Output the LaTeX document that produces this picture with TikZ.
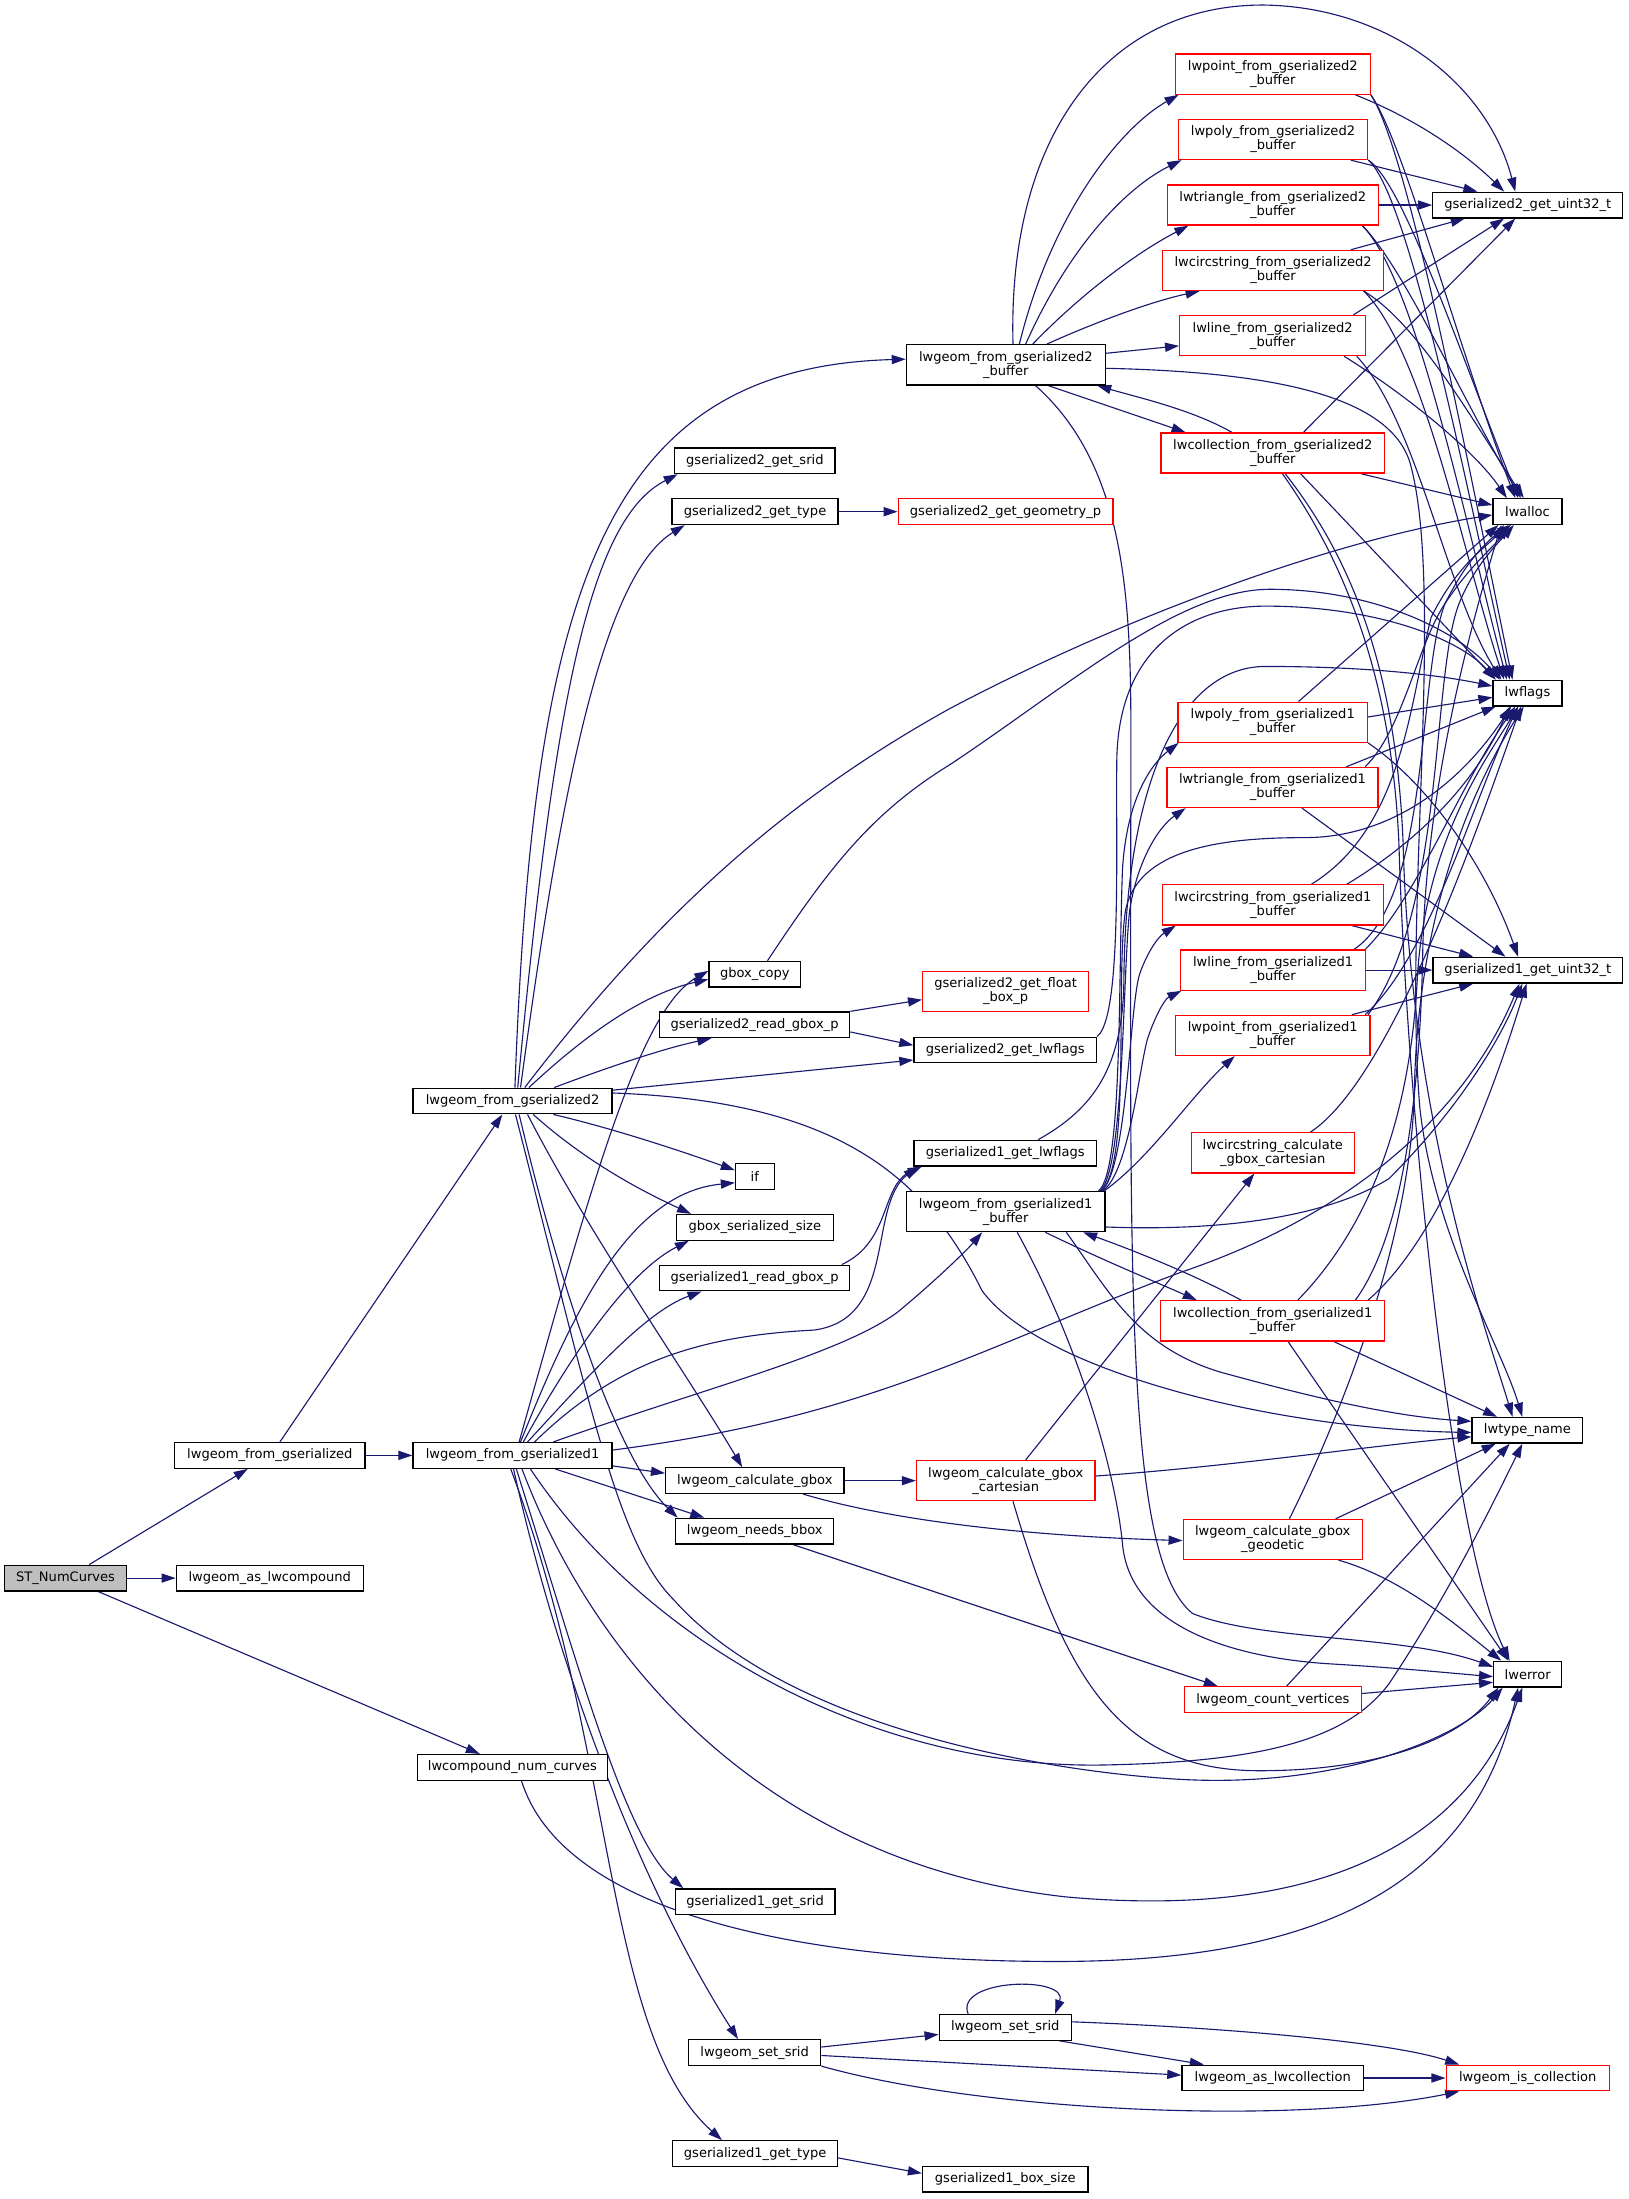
\documentclass[tikz,border=0pt]{standalone}
\usepackage{fontspec}
\setmainfont{DejaVu Sans}
\usetikzlibrary{arrows.meta}
\pgfdeclarelayer{bg}
\pgfsetlayers{bg,main}
\definecolor{edgec}{HTML}{191970}
\definecolor{redb}{HTML}{FF0000}
\definecolor{grayf}{HTML}{BFBFBF}
\begin{document}
\begin{tikzpicture}[x=1pt,y=-1pt,
  box/.style={draw=black, line width=0.9pt, rectangle, inner sep=0pt, minimum height=18.3pt, align=center, font=\fontsize{9.3}{10}\selectfont, fill=white},
  rbox/.style={box, draw=redb},
  two/.style={minimum height=28.6pt},
  e/.style={draw=edgec, line width=0.8pt, -{Triangle[length=10pt,width=6.5pt]}}]
\useasboundingbox (0,0) rectangle (1160.4,1567.3);
% ---------- nodes ----------
\node[box,fill=grayf,minimum width=87.1pt] (ST) at (46.75,1124.75) {ST\_NumCurves};
\node[box,minimum width=133.3pt] (asComp) at (192.25,1124.75) {lwgeom\_as\_lwcompound};
\node[box,minimum width=135.8pt] (fromG) at (192.3,1037.3) {lwgeom\_from\_gserialized};
\node[box,minimum width=135.6pt] (numCurves) at (365.2,1259.65) {lwcompound\_num\_curves};
\node[box,minimum width=141.8pt] (fromG1) at (365.3,1037.3) {lwgeom\_from\_gserialized1};
\node[box,minimum width=141.8pt] (fromG2) at (365.3,784.7) {lwgeom\_from\_gserialized2};
\node[box,two,minimum width=141.8pt] (g2buf) at (716.9,260.05) {lwgeom\_from\_gserialized2\\\_buffer};
\node[box,minimum width=114.1pt] (g2srid) at (538,328.45) {gserialized2\_get\_srid};
\node[box,minimum width=118.3pt] (g2type) at (538.15,364.7) {gserialized2\_get\_type};
\node[rbox,minimum width=153pt] (g2geom) at (716.7,364.7) {gserialized2\_get\_geometry\_p};
\node[box,minimum width=65.4pt] (gboxcopy) at (538,694.3) {gbox\_copy};
\node[rbox,two,minimum width=118.2pt] (g2float) at (716.7,706.5) {gserialized2\_get\_float\\\_box\_p};
\node[box,minimum width=135.6pt] (g2read) at (537.8,730.4) {gserialized2\_read\_gbox\_p};
\node[box,minimum width=130.1pt] (g2flags) at (716.45,748.35) {gserialized2\_get\_lwflags};
\node[box,minimum width=27.6pt] (if) at (538,838.65) {if};
\node[box,minimum width=112pt] (gboxsize) at (538,874.75) {gbox\_serialized\_size};
\node[box,minimum width=135.6pt] (g1read) at (537.8,910.85) {gserialized1\_read\_gbox\_p};
\node[box,minimum width=130.1pt] (g1flags) at (716.45,821.8) {gserialized1\_get\_lwflags};
\node[box,two,minimum width=141.5pt] (g1buf) at (716.75,863.55) {lwgeom\_from\_gserialized1\\\_buffer};
\node[box,minimum width=127.2pt] (calcgbox) at (538,1055.3) {lwgeom\_calculate\_gbox};
\node[rbox,two,minimum width=127.3pt] (cart) at (716.85,1055.3) {lwgeom\_calculate\_gbox\\\_cartesian};
\node[box,minimum width=112.7pt] (needsbbox) at (537.95,1091.3) {lwgeom\_needs\_bbox};
\node[box,minimum width=114pt] (g1srid) at (538.2,1355.4) {gserialized1\_get\_srid};
\node[box,minimum width=94.2pt] (setsridB) at (716.5,1444.95) {lwgeom\_set\_srid};
\node[box,minimum width=94.1pt] (setsridA) at (537.85,1462.95) {lwgeom\_set\_srid};
\node[box,minimum width=129.4pt] (ascoll) at (907.1,1481.05) {lwgeom\_as\_lwcollection};
\node[rbox,minimum width=116.3pt] (iscoll) at (1088.85,1481.05) {lwgeom\_is\_collection};
\node[box,minimum width=117.4pt] (g1type) at (538.2,1534.95) {gserialized1\_get\_type};
\node[box,minimum width=118pt] (g1box) at (716.5,1553.15) {gserialized1\_box\_size};
\node[rbox,two,minimum width=138.9pt] (pt2) at (907.15,52.85) {lwpoint\_from\_gserialized2\\\_buffer};
\node[rbox,two,minimum width=135pt] (poly2) at (907.3,99.4) {lwpoly\_from\_gserialized2\\\_buffer};
\node[rbox,two,minimum width=150.3pt] (tri2) at (907.15,146.15) {lwtriangle\_from\_gserialized2\\\_buffer};
\node[rbox,two,minimum width=157.7pt] (circ2) at (907.35,192.75) {lwcircstring\_from\_gserialized2\\\_buffer};
\node[rbox,two,minimum width=132.6pt] (line2) at (907.1,239.2) {lwline\_from\_gserialized2\\\_buffer};
\node[rbox,two,minimum width=159.5pt] (coll2) at (907.15,322.9) {lwcollection\_from\_gserialized2\\\_buffer};
\node[box,minimum width=135.4pt] (u32b) at (1088.9,146.15) {gserialized2\_get\_uint32\_t};
\node[box,minimum width=49.2pt] (lwalloc) at (1088.7,364.6) {lwalloc};
\node[box,minimum width=49.2pt] (lwflags) at (1088.7,494) {lwflags};
\node[rbox,two,minimum width=135pt] (poly1) at (907.1,514.75) {lwpoly\_from\_gserialized1\\\_buffer};
\node[rbox,two,minimum width=150.5pt] (tri1) at (906.95,561.25) {lwtriangle\_from\_gserialized1\\\_buffer};
\node[rbox,two,minimum width=157.9pt] (circ1) at (907.25,644.95) {lwcircstring\_from\_gserialized1\\\_buffer};
\node[rbox,two,minimum width=131.9pt] (line1) at (907.35,691.45) {lwline\_from\_gserialized1\\\_buffer};
\node[rbox,two,minimum width=138.6pt] (pt1) at (907.1,737.95) {lwpoint\_from\_gserialized1\\\_buffer};
\node[box,minimum width=135.3pt] (u32a) at (1088.95,691.45) {gserialized1\_get\_uint32\_t};
\node[rbox,two,minimum width=116.2pt] (circcart) at (907.1,821.65) {lwcircstring\_calculate\\\_gbox\_cartesian};
\node[rbox,two,minimum width=159.8pt] (coll1) at (907.1,941.4) {lwcollection\_from\_gserialized1\\\_buffer};
\node[box,minimum width=78.9pt] (lwtype) at (1088.65,1019.4) {lwtype\_name};
\node[rbox,two,minimum width=127.6pt] (geod) at (907.1,1097.2) {lwgeom\_calculate\_gbox\\\_geodetic};
\node[box,minimum width=48.4pt] (lwerror) at (1088.8,1193.2) {lwerror};
\node[rbox,minimum width=126pt] (countv) at (907.2,1211.4) {lwgeom\_count\_vertices};
% ---------- edges ----------
\begin{pgfonlayer}{bg}
\fill[white] (0,0) rectangle (1160.4,1567.3);
% left part
\draw[e] (63.5,0 |- ST.north) -- (176.6,0 |- fromG.south);
\draw[e] (ST.east) -- (asComp.west);
\draw[e] (70,0 |- ST.south) -- (342,0 |- numCurves.north);
\draw[e] (fromG.east) -- (fromG1.west);
\draw[e] (199.5,0 |- fromG.north) -- (358,0 |- fromG2.south);
\draw[e] (371.7,0 |- numCurves.south) .. controls (400,1360) and (560,1398) .. (753,1398) .. controls (930,1398) and (1050,1350) .. (1082,0 |- lwerror.south);
% fromG2
\draw[e] (367,0 |- fromG2.north) .. controls (380,420) and (430,262) .. (g2buf.west |- 0,256);
\draw[e] (369,0 |- fromG2.north) .. controls (395,500) and (420,370) .. (483,0 |- g2srid.south);
\draw[e] (371,0 |- fromG2.north) .. controls (400,560) and (430,410) .. (488,0 |- g2type.south);
\draw[e] (377,0 |- fromG2.north) .. controls (420,735) and (460,708) .. (gboxcopy.west |- 0,698);
\draw[e] (395,0 |- fromG2.north) .. controls (430,762) and (470,748) .. (507,0 |- g2read.south);
\draw[e] (fromG2.east |- 0,777) -- (g2flags.west |- 0,755.5);
\draw[e] (374,0 |- fromG2.north) .. controls (470,650) and (560,570) .. (677,505) .. controls (800,440) and (950,385) .. (lwalloc.west |- 0,367);
\draw[e] (394.4,0 |- fromG2.south) .. controls (440,805) and (490,822) .. (if.west |- 0,834);
\draw[e] (380,0 |- fromG2.south) .. controls (420,830) and (460,850) .. (492.5,0 |- gboxsize.north);
\draw[e] (376,0 |- fromG2.south) .. controls (420,880) and (490,980) .. (529,0 |- calcgbox.north);
\draw[e] (370,0 |- fromG2.south) .. controls (400,920) and (440,1040) .. (483,0 |- needsbbox.north);
\draw[e] (fromG2.east |- 0,779) .. controls (600,785) and (660,840) .. (700,920) .. controls (740,975) and (900,1018) .. (lwtype.west |- 0,1021);
\draw[e] (367.4,0 |- fromG2.south) .. controls (420,1000) and (440,1100) .. (480,1140) .. controls (560,1230) and (740,1262) .. (838,1268) .. controls (950,1275) and (1040,1240) .. (1071,0 |- lwerror.south);
% gbox_copy
\draw[e] (547,0 |- gboxcopy.north) .. controls (590,620) and (620,580) .. (677,545) .. controls (760,490) and (840,420) .. (905,420) .. controls (980,420) and (1040,450) .. (1069,0 |- lwflags.north);
% fromG1
\draw[e] (370,0 |- fromG1.north) .. controls (420,850) and (455,720) .. (gboxcopy.west |- 0,692);
\draw[e] (371,0 |- fromG1.north) .. controls (410,930) and (450,850) .. (if.west |- 0,843);
\draw[e] (373,0 |- fromG1.north) .. controls (410,960) and (450,905) .. (491,0 |- gboxsize.south);
\draw[e] (376,0 |- fromG1.north) .. controls (420,980) and (460,935) .. (500,0 |- g1read.south);
\draw[e] (381,0 |- fromG1.north) .. controls (440,970) and (500,952) .. (580,948) .. controls (640,940) and (618,860) .. (654,0 |- g1flags.south);
\draw[e] (600,0 |- g1read.north) .. controls (635,885) and (628,845) .. (657,0 |- g1flags.south);
\draw[e] (394.4,0 |- fromG1.north) .. controls (500,990) and (600,965) .. (640,935) .. controls (670,910) and (690,890) .. (700,0 |- g1buf.south);
\draw[e] (fromG1.east |- 0,1033.5) .. controls (620,1010) and (700,960) .. (841,907) .. controls (980,860) and (1050,780) .. (1083,0 |- u32a.south);
\draw[e] (fromG1.east |- 0,1044.8) -- (calcgbox.west |- 0,1050);
\draw[e] (395.5,0 |- fromG1.south) -- (502,0 |- needsbbox.north);
\draw[e] (378,0 |- fromG1.south) .. controls (460,1170) and (620,1260) .. (784,1258) .. controls (900,1256) and (960,1240) .. (990,1200) .. controls (1030,1140) and (1060,1080) .. (1085,0 |- lwtype.south);
\draw[e] (372,0 |- fromG1.south) .. controls (430,1200) and (560,1330) .. (760,1352) .. controls (960,1370) and (1050,1300) .. (1085,0 |- lwerror.south);
\draw[e] (368,0 |- fromG1.south) .. controls (410,1180) and (445,1310) .. (487,0 |- g1srid.north);
\draw[e] (366,0 |- fromG1.south) .. controls (400,1200) and (460,1350) .. (526,0 |- setsridA.north);
\draw[e] (364,0 |- fromG1.south) .. controls (440,1250) and (430,1450) .. (514.6,0 |- g1type.north);
% gserialized2 helpers
\draw[e] (g2type.east) -- (g2geom.west);
\draw[e] (g2read.north east) -- (g2float.west |- 0,712.5);
\draw[e] (g2read.east |- 0,735.5) -- (g2flags.west |- 0,745);
\draw[e] (g2flags.north east) .. controls (800,725) and (795,600) .. (796,540) .. controls (798,460) and (850,432) .. (902,432) .. controls (980,432) and (1040,455) .. (1066,0 |- lwflags.north);
\draw[e] (740,0 |- g1flags.north) .. controls (780,790) and (800,760) .. (801,700) .. controls (802,560) and (840,475) .. (902,475) .. controls (980,475) and (1030,482) .. (lwflags.west |- 0,489);
% g2buf
\draw[e] (726.5,0 |- g2buf.north) .. controls (750,150) and (800,90) .. (840,0 |- pt2.south);
\draw[e] (731,0 |- g2buf.north) .. controls (760,180) and (800,135) .. (842,0 |- poly2.south);
\draw[e] (736,0 |- g2buf.north) .. controls (770,210) and (810,180) .. (847,0 |- tri2.south);
\draw[e] (746,0 |- g2buf.north) .. controls (780,230) and (820,215) .. (855,0 |- circ2.south);
\draw[e] (g2buf.east |- 0,251.8) -- (line2.west |- 0,246.5);
\draw[e] (747,0 |- g2buf.south) -- (845,0 |- coll2.north);
\draw[e] (878,0 |- coll2.north) .. controls (850,292) and (810,283) .. (782,0 |- g2buf.south);
\draw[e] (722,0 |- g2buf.north) .. controls (718,95) and (790,3) .. (901,3.6) .. controls (990,5) and (1060,60) .. (1080,0 |- u32b.north);
\draw[e] (g2buf.east |- 0,262.5) .. controls (900,265) and (990,280) .. (1005,330) .. controls (1030,420) and (1000,650) .. (1012,790) .. controls (1022,880) and (1070,960) .. (1085,0 |- lwtype.north);
\draw[e] (738,0 |- g2buf.south) .. controls (800,330) and (806,420) .. (806,520) .. controls (806,900) and (800,1110) .. (850,1150) .. controls (900,1170) and (1000,1165) .. (lwerror.west |- 0,1188);
% coll2
\draw[e] (929,0 |- coll2.north) -- (1080,0 |- u32b.south);
\draw[e] (970,0 |- coll2.south) -- (lwalloc.west |- 0,360);
\draw[e] (927,0 |- coll2.south) -- (1066,0 |- lwflags.north);
\draw[e] (916,0 |- coll2.south) .. controls (965,400) and (995,480) .. (1000,600) .. controls (1005,800) and (1060,950) .. (1078,0 |- lwtype.north);
\draw[e] (914,0 |- coll2.south) .. controls (962,405) and (992,490) .. (997,600) .. controls (1003,800) and (1035,1100) .. (1076,0 |- lwerror.north);
% readers of gserialized2
\draw[e] (966,0 |- pt2.south) .. controls (1010,85) and (1045,110) .. (1072,0 |- u32b.north);
\draw[e] (pt2.south east) .. controls (1000,100) and (1040,250) .. (1080,0 |- lwalloc.north);
\draw[e] (pt2.south east) .. controls (1005,110) and (1050,350) .. (1078,0 |- lwflags.north);
\draw[e] (962.8,0 |- poly2.south) -- (1053,0 |- u32b.north);
\draw[e] (poly2.south east) .. controls (1000,130) and (1040,250) .. (1082,0 |- lwalloc.north);
\draw[e] (poly2.south east) .. controls (1005,140) and (1048,360) .. (1076,0 |- lwflags.north);
\draw[e] (tri2.east) -- (u32b.west);
\draw[e] (971,0 |- tri2.south) .. controls (1000,190) and (1040,280) .. (1084,0 |- lwalloc.north);
\draw[e] (971,0 |- tri2.south) .. controls (1010,200) and (1046,380) .. (1074,0 |- lwflags.north);
\draw[e] (962.8,0 |- circ2.north) -- (1044,0 |- u32b.south);
\draw[e] (972,0 |- circ2.south) .. controls (1010,230) and (1050,300) .. (1086,0 |- lwalloc.north);
\draw[e] (972,0 |- circ2.south) .. controls (1015,250) and (1044,400) .. (1072,0 |- lwflags.north);
\draw[e] (964.6,0 |- line2.north) -- (1072,0 |- u32b.south);
\draw[e] (958,0 |- line2.south) .. controls (1000,280) and (1050,320) .. (1074,0 |- lwalloc.north);
\draw[e] (967,0 |- line2.south) .. controls (1010,300) and (1030,420) .. (1070,0 |- lwflags.north);
% readers of gserialized1
\draw[e] (poly1.east |- 0,511) -- (lwflags.west |- 0,497);
\draw[e] (925.5,0 |- poly1.north) -- (1068,0 |- lwalloc.south);
\draw[e] (poly1.south east) .. controls (1020,560) and (1060,620) .. (1082,0 |- u32a.north);
\draw[e] (959.6,0 |- tri1.north) -- (1066,0 |- lwflags.south);
\draw[e] (973,0 |- tri1.north) .. controls (1000,520) and (1010,460) .. (1030,430) .. controls (1050,400) and (1065,390) .. (1075,0 |- lwalloc.south);
\draw[e] (928,0 |- tri1.south) -- (1073,0 |- u32a.north);
\draw[e] (960,0 |- circ1.north) .. controls (1010,600) and (1050,560) .. (1076,0 |- lwflags.south);
\draw[e] (934.7,0 |- circ1.north) .. controls (1000,590) and (1005,500) .. (1020,440) .. controls (1040,400) and (1060,390) .. (1072,0 |- lwalloc.south);
\draw[e] (963.5,0 |- circ1.south) -- (1050,0 |- u32a.north);
\draw[e] (line1.east |- 0,691.4) -- (u32a.west |- 0,691.4);
\draw[e] (973,0 |- line1.north) .. controls (1010,640) and (1040,560) .. (1080,0 |- lwflags.south);
\draw[e] (965,0 |- line1.north) .. controls (1020,640) and (1010,480) .. (1030,430) .. controls (1045,400) and (1060,385) .. (1077,0 |- lwalloc.south);
\draw[e] (963.5,0 |- pt1.north) -- (1050,0 |- u32a.south);
\draw[e] (973,0 |- pt1.north) .. controls (1020,680) and (1050,570) .. (1082,0 |- lwflags.south);
\draw[e] (975,0 |- pt1.north) .. controls (1030,650) and (1020,480) .. (1040,430) .. controls (1050,405) and (1065,390) .. (1079,0 |- lwalloc.south);
% g1buf
\draw[e] (783,0 |- g1buf.north) .. controls (800,835) and (797,700) .. (800,620) .. controls (803,570) and (820,545) .. (840,0 |- poly1.south);
\draw[e] (784,0 |- g1buf.north) .. controls (801,835) and (800,700) .. (805,650) .. controls (810,615) and (825,590) .. (845,0 |- tri1.south);
\draw[e] (785,0 |- g1buf.north) .. controls (803,835) and (805,720) .. (812,695) .. controls (817,680) and (825,668) .. (838,0 |- circ1.south);
\draw[e] (786,0 |- g1buf.north) .. controls (805,835) and (812,760) .. (818,740) .. controls (823,725) and (830,712) .. (842,0 |- line1.south);
\draw[e] (787,0 |- g1buf.north) .. controls (820,825) and (850,780) .. (880,0 |- pt1.south);
\draw[e] (785,0 |- g1buf.north) .. controls (806,830) and (795,700) .. (802,650) .. controls (810,605) and (870,597) .. (930,597) .. controls (990,597) and (1040,560) .. (1077,0 |- lwflags.south);
\draw[e] (g1buf.east |- 0,874.5) .. controls (880,878) and (950,865) .. (990,840) .. controls (1040,790) and (1070,740) .. (1085,0 |- u32a.south);
\draw[e] (760,0 |- g1buf.south) .. controls (790,920) and (810,960) .. (870,978) .. controls (950,1000) and (1000,1010) .. (lwtype.west |- 0,1013);
\draw[e] (745,0 |- g1buf.south) .. controls (790,900) and (820,912) .. (853,0 |- coll1.north);
\draw[e] (884.6,0 |- coll1.north) .. controls (850,908) and (810,892) .. (772,0 |- g1buf.south);
\draw[e] (725,0 |- g1buf.south) .. controls (770,960) and (795,1050) .. (800,1100) .. controls (805,1160) and (880,1182) .. (950,1186) .. controls (1000,1189) and (1040,1193) .. (lwerror.west |- 0,1195);
% coll1
\draw[e] (966,0 |- coll1.north) .. controls (1000,880) and (1012,780) .. (1014,680) .. controls (1016,560) and (1050,440) .. (1070,0 |- lwalloc.south);
\draw[e] (925,0 |- coll1.north) .. controls (980,870) and (1005,790) .. (1010,700) .. controls (1015,600) and (1060,540) .. (1082,0 |- lwflags.south);
\draw[e] (975,0 |- coll1.north) .. controls (1030,880) and (1070,760) .. (1088,0 |- u32a.south);
\draw[e] (950.6,0 |- coll1.south) -- (1067,0 |- lwtype.north);
\draw[e] (918,0 |- coll1.south) -- (1075,0 |- lwerror.north);
% bbox computations
\draw[e] (calcgbox.east) -- (cart.west);
\draw[e] (572.5,0 |- calcgbox.south) .. controls (640,1085) and (740,1095) .. (geod.west |- 0,1098);
\draw[e] (731,0 |- cart.north) -- (894,0 |- circcart.south);
\draw[e] (cart.east |- 0,1052) .. controls (880,1045) and (980,1030) .. (lwtype.west |- 0,1024);
\draw[e] (722,0 |- cart.south) .. controls (760,1200) and (800,1260) .. (893,1262) .. controls (980,1263) and (1040,1240) .. (1068,0 |- lwerror.south);
\draw[e] (934,0 |- circcart.north) .. controls (990,770) and (1050,600) .. (1084,0 |- lwflags.south);
\draw[e] (919,0 |- geod.north) .. controls (960,1000) and (1005,880) .. (1008,780) .. controls (1010,650) and (1050,560) .. (1086,0 |- lwflags.south);
\draw[e] (952,0 |- geod.north) -- (1066,0 |- lwtype.south);
\draw[e] (954,0 |- geod.south) .. controls (1000,1125) and (1040,1160) .. (1070,0 |- lwerror.north);
\draw[e] (917,0 |- countv.north) -- (1076,0 |- lwtype.south);
\draw[e] (countv.east |- 0,1207) -- (lwerror.west |- 0,1199);
\draw[e] (565.3,0 |- needsbbox.south) -- (868,0 |- countv.north);
% set_srid group
\draw[e] (setsridA.east |- 0,1459) -- (setsridB.west |- 0,1450);
\draw[e] (setsridA.east |- 0,1465) -- (ascoll.west |- 0,1479);
\draw[e] (setsridA.south east) .. controls (700,1505) and (920,1515) .. (1040,0 |- iscoll.south);
\draw[e] (690,0 |- setsridB.north) .. controls (680,1410) and (762,1408) .. (752,0 |- setsridB.north);
\draw[e] (755,0 |- setsridB.south) -- (858,0 |- ascoll.north);
\draw[e] (setsridB.east |- 0,1441) .. controls (870,1445) and (990,1455) .. (1040,0 |- iscoll.north);
\draw[e] (ascoll.east) -- (iscoll.west);
\draw[e] (g1type.east |- 0,1538) -- (g1box.west |- 0,1549);
\end{pgfonlayer}
\end{tikzpicture}
\end{document}
